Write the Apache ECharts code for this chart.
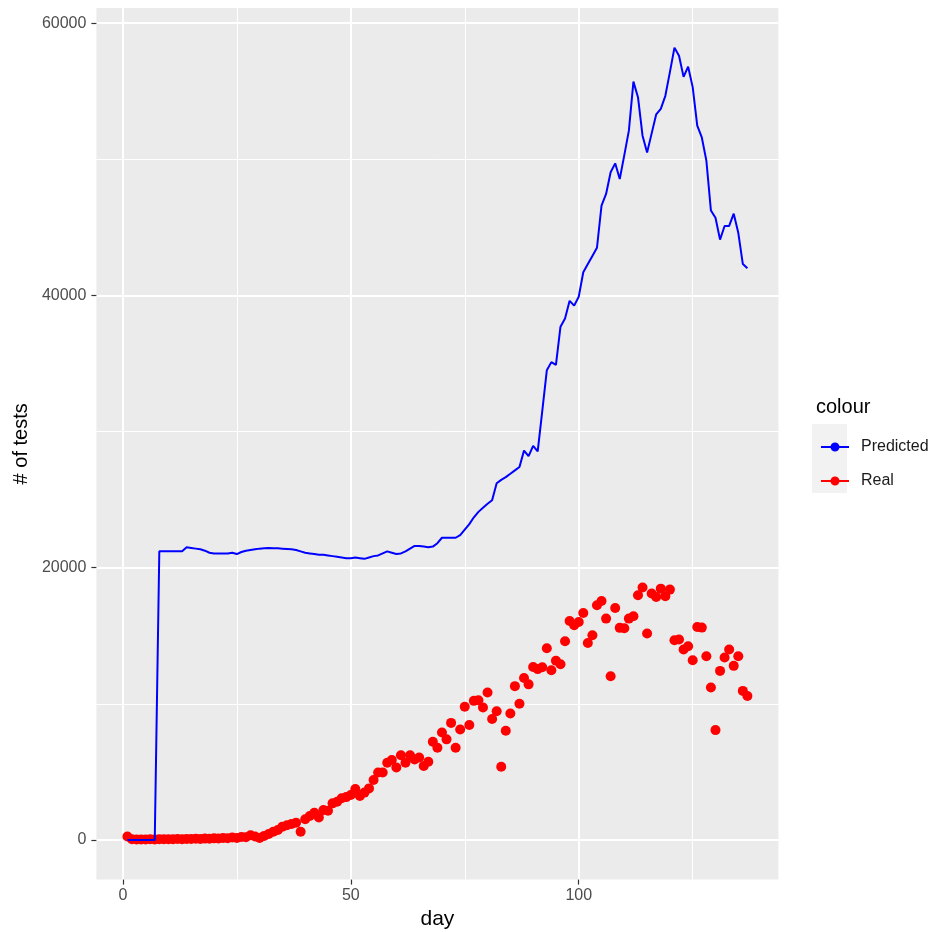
<!DOCTYPE html>
<html>
<head>
<meta charset="utf-8">
<title>tests per day</title>
<script src="https://cdn.jsdelivr.net/npm/echarts@6/dist/echarts.min.js"></script>
<style>
  html, body { margin: 0; padding: 0; background: #fff; }
  #chart { width: 930px; height: 932px; }
</style>
</head>
<body>
<div id="chart"></div>
<script>
// day index, 1..137
const days = [
  1, 2, 3, 4, 5, 6, 7, 8, 9, 10, 11, 12, 13, 14, 15, 16, 17, 18, 19, 20,
  21, 22, 23, 24, 25, 26, 27, 28, 29, 30, 31, 32, 33, 34, 35, 36, 37, 38, 39, 40,
  41, 42, 43, 44, 45, 46, 47, 48, 49, 50, 51, 52, 53, 54, 55, 56, 57, 58, 59, 60,
  61, 62, 63, 64, 65, 66, 67, 68, 69, 70, 71, 72, 73, 74, 75, 76, 77, 78, 79, 80,
  81, 82, 83, 84, 85, 86, 87, 88, 89, 90, 91, 92, 93, 94, 95, 96, 97, 98, 99, 100,
  101, 102, 103, 104, 105, 106, 107, 108, 109, 110, 111, 112, 113, 114, 115, 116, 117, 118, 119, 120,
  121, 122, 123, 124, 125, 126, 127, 128, 129, 130, 131, 132, 133, 134, 135, 136, 137
]

// blue line
const predicted = [
  0, 0, 0, 0, 0, 0, 0, 21200, 21200, 21200,
  21200, 21200, 21200, 21500, 21450, 21400, 21350, 21250, 21100, 21050,
  21050, 21050, 21050, 21100, 21000, 21150, 21250, 21300, 21350, 21400,
  21430, 21450, 21430, 21420, 21400, 21380, 21350, 21300, 21200, 21100,
  21050, 21000, 20950, 20950, 20900, 20850, 20800, 20750, 20700, 20700,
  20750, 20700, 20650, 20750, 20850, 20900, 21050, 21200, 21100, 21000,
  21050, 21200, 21400, 21600, 21600, 21550, 21500, 21550, 21800, 22200,
  22200, 22200, 22200, 22400, 22800, 23200, 23700, 24100, 24400, 24700,
  24950, 26200, 26450, 26650, 26900, 27150, 27400, 28600, 28200, 28950,
  28550, 31500, 34500, 35100, 34900, 37700, 38300, 39600, 39250, 39900,
  41700, 42300, 42900, 43500, 46600, 47450, 49040, 49700, 48550, 50300,
  52100, 55700, 54560, 51730, 50500, 51900, 53300, 53700, 54660, 56400,
  58200, 57600, 56050, 56800, 55300, 52470, 51600, 49900, 46230, 45700,
  44100, 45100, 45100, 46000, 44600, 42300, 42000
]

// red points
const real = [
  250, 50, 30, 40, 30, 50, 40, 50, 60, 50,
  60, 70, 60, 80, 70, 90, 80, 100, 90, 120,
  110, 140, 130, 180, 150, 220, 200, 350, 250, 150,
  300, 440, 600, 730, 980, 1080, 1170, 1270, 610, 1520,
  1760, 2000, 1660, 2200, 2150, 2690, 2810, 3060, 3150, 3300,
  3750, 3230, 3480, 3790, 4400, 4960, 4960, 5670, 5870, 5330,
  6230, 5670, 6230, 5920, 6060, 5430, 5740, 7210, 6770, 7900,
  7390, 8600, 6770, 8120, 9780, 8440, 10220, 10270, 9730, 10830,
  8880, 9460, 5380, 8020, 9290, 11300, 10000, 11900, 11430, 12710,
  12550, 12690, 14080, 12470, 13170, 12910, 14600, 16090, 15770, 16010,
  16670, 14470, 15040, 17240, 17550, 16260, 12030, 17040, 15580, 15550,
  16260, 16430, 17970, 18540, 15160, 18100, 17850, 18460, 17900, 18390,
  14670, 14720, 13990, 14230, 13200, 15650, 15600, 13500, 11200, 8070,
  12420, 13400, 13990, 12790, 13500, 10950, 10580
]

const xMajorTicks = [0, 50, 100]
const xMinorTicks = [25, 75, 125]
const yMajorTicks = [0, 20000, 40000, 60000]
const yMinorTicks = [10000, 30000, 50000]

const FONT = '"Liberation Sans", Arial, sans-serif'
// legend key: a short line with a dot in the middle
const keyIcon = 'path://M0,3.5H28V5.5H0Z M9.5,4.5A4.5,4.5,0,1,1,18.5,4.5A4.5,4.5,0,1,1,9.5,4.5Z'

const chart = echarts.init(document.getElementById('chart'))

const hiddenAxisParts = {
  axisLine: { show: false, onZero: false },
  axisLabel: { show: false }
}

chart.setOption({
  animation: false,
  backgroundColor: '#ffffff',
  textStyle: { fontFamily: FONT },
  title: {
    text: 'colour',
    left: 811,
    top: 392,
    textStyle: { fontFamily: FONT, fontSize: 20, fontWeight: 'normal', color: '#000' }
  },
  legend: {
    orient: 'vertical',
    left: 816,
    top: 433,
    itemWidth: 28,
    itemHeight: 9,
    itemGap: 16,
    icon: keyIcon,
    textStyle: { fontFamily: FONT, fontSize: 16, color: '#1a1a1a', lineHeight: 18, padding: [0, 0, 0, 7] },
    data: ['Predicted', 'Real']
  },
  graphic: [
    {
      type: 'rect',
      left: 812,
      top: 424,
      shape: { width: 35, height: 69 },
      style: { fill: '#F2F2F2' },
      z: -1
    }
  ],
  grid: {
    left: 96.4,
    right: 151.6,
    top: 8,
    bottom: 52.4,
    outerBoundsMode: 'none',
    containLabel: false,
    show: true,
    backgroundColor: '#EBEBEB',
    borderWidth: 0
  },
  xAxis: [
    {
      type: 'value',
      min: -5.8,
      max: 143.8,
      name: 'day',
      nameLocation: 'middle',
      nameGap: 28,
      nameTextStyle: { fontFamily: FONT, fontSize: 21, color: '#000' },
      axisLine: { show: false, onZero: false },
      axisTick: { show: true, inside: false, length: 5, customValues: xMajorTicks, lineStyle: { color: '#333', width: 1.2 } },
      axisLabel: { customValues: xMajorTicks, margin: 8, fontFamily: FONT, fontSize: 16, color: '#4D4D4D' },
      splitLine: { show: true, lineStyle: { color: '#ffffff', width: 2 } }
    },
    {
      type: 'value',
      min: -5.8,
      max: 143.8,
      position: 'top',
      ...hiddenAxisParts,
      axisTick: { show: false, customValues: xMinorTicks },
      splitLine: { show: true, lineStyle: { color: '#ffffff', width: 1 } }
    }
  ],
  yAxis: [
    {
      type: 'value',
      min: -2910,
      max: 61110,
      name: '# of tests',
      nameLocation: 'middle',
      nameGap: 64,
      nameTextStyle: { fontFamily: FONT, fontSize: 20, color: '#000' },
      axisLine: { show: false, onZero: false },
      axisTick: { show: true, inside: false, length: 5, customValues: yMajorTicks, lineStyle: { color: '#333', width: 1.2 } },
      axisLabel: {
        customValues: yMajorTicks,
        margin: 10,
        fontFamily: FONT,
        fontSize: 16,
        color: '#4D4D4D',
        formatter: (v) => String(v)
      },
      splitLine: { show: true, lineStyle: { color: '#ffffff', width: 2 } }
    },
    {
      type: 'value',
      min: -2910,
      max: 61110,
      position: 'right',
      ...hiddenAxisParts,
      axisTick: { show: false, customValues: yMinorTicks },
      splitLine: { show: true, lineStyle: { color: '#ffffff', width: 1 } }
    }
  ],
  series: [
    {
      name: 'Real',
      type: 'scatter',
      xAxisIndex: 0,
      yAxisIndex: 0,
      symbolSize: 10,
      itemStyle: { color: '#FF0000', opacity: 1 },
      data: days.map((d, i) => [d, real[i]]),
      z: 2
    },
    {
      name: 'Predicted',
      type: 'line',
      xAxisIndex: 0,
      yAxisIndex: 0,
      showSymbol: false,
      symbol: 'circle',
      lineStyle: { color: '#0000FF', width: 2 },
      itemStyle: { color: '#0000FF' },
      data: days.map((d, i) => [d, predicted[i]]),
      z: 3
    }
  ]
})
</script>
</body>
</html>
